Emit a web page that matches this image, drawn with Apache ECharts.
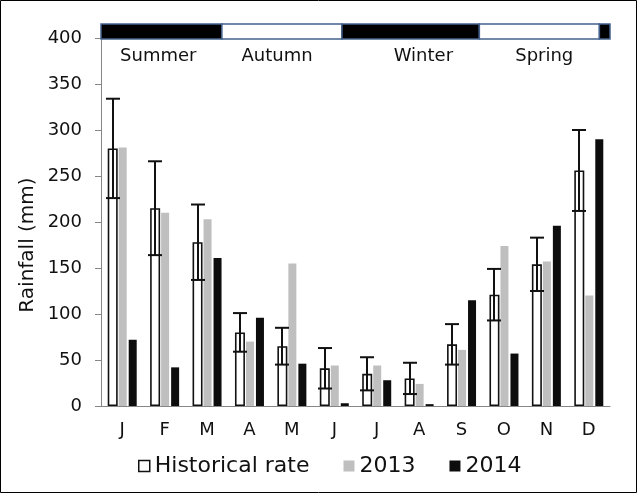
<!DOCTYPE html>
<html><head><meta charset="utf-8">
<script src="https://cdn.jsdelivr.net/npm/echarts@6/dist/echarts.min.js"></script>
<style>html,body{margin:0;padding:0;background:#fff}#c{width:637px;height:493px}</style>
</head><body><div id="c"></div>
<script>
// ---- data ----
const months = ['J','F','M','A','M','J','J','A','S','O','N','D'];
const historical = [280, 215, 178, 80, 65, 41, 35, 30, 67, 121, 154, 256];
const historicalErr = [54, 51, 41, 21, 20, 22, 18, 17, 22, 28, 29, 44];
const rain2013 = [281, 210, 203, 70, 155, 44, 44, 24, 61, 174, 157, 120];
const rain2014 = [72, 42, 161, 96, 46, 3, 28, 2, 115, 57, 196, 290];
const yMin = 0, yMax = 400, yStep = 50;
const seasonNames = ['Summer', 'Autumn', 'Winter', 'Spring', ''];
const seasonStart = [0, 2.85, 5.68, 8.92, 11.75];
const seasonEnd = [2.85, 5.68, 8.92, 11.75, 12];
const seasonLabelAt = [1.35, 4.15, 7.6, 10.45, null];

// ---- style constants ----
const FONT = 'DejaVu Sans';
const TXT = '#111';
const HIST_W = 10, GAP1 = 1, W13 = 8, GAP2 = 2, W14 = 8;
const GROUP_W = HIST_W + GAP1 + W13 + GAP2 + W14;
const HIST_OFFSET = -GROUP_W / 2 + HIST_W / 2;

const chart = echarts.init(document.getElementById('c'), null, {renderer: 'canvas'});
chart.setOption({
  animation: false,
  backgroundColor: '#fff',
  grid: [
    {left: 101, right: 27, top: 38, bottom: 87},
    {left: 101, right: 27, top: 24, height: 15}
  ],
  xAxis: [
    {type: 'category', gridIndex: 0, data: months,
     axisLine: {lineStyle: {color: '#868686', width: 1}},
     axisTick: {show: false},
     axisLabel: {color: TXT, fontFamily: FONT, fontSize: 18, margin: 15}},
    {type: 'value', gridIndex: 1, min: 0, max: 12, show: false}
  ],
  yAxis: [
    {type: 'value', gridIndex: 0, min: yMin, max: yMax, interval: yStep,
     axisLine: {show: true, lineStyle: {color: '#868686', width: 1}},
     axisTick: {show: true, length: 6, lineStyle: {color: '#868686'}},
     splitLine: {show: false},
     axisLabel: {color: TXT, fontFamily: FONT, fontSize: 18, margin: 19}},
    {type: 'value', gridIndex: 1, min: 0, max: 1, show: false}
  ],
  legend: {
    left: 133, top: 450, itemWidth: 11, itemHeight: 11, itemGap: 34,
    icon: 'rect',
    textStyle: {color: TXT, fontFamily: FONT, fontSize: 22},
    data: [
      {name: 'Historical rate', itemStyle: {color: '#fff', borderColor: '#111', borderWidth: 1.5}},
      {name: '2013', itemStyle: {color: '#bfbfbf', borderWidth: 0}},
      {name: '2014', itemStyle: {color: '#0d0d0d', borderWidth: 0}}
    ]
  },
  graphic: [
    {type: 'rect', shape: {x: 0.5, y: 0.5, width: 636, height: 492}, style: {fill: 'none', stroke: '#000', lineWidth: 1}, z: 100},
    {type: 'text', x: 28, y: 245, rotation: Math.PI / 2,
     style: {text: 'Rainfall (mm)', fill: TXT, font: '20px "DejaVu Sans"', textAlign: 'center', textVerticalAlign: 'middle'}}
  ],
  series: [
    {name: 'Historical rate', type: 'bar', xAxisIndex: 0, yAxisIndex: 0, barWidth: HIST_W, barGap: '0%',
     data: historical, itemStyle: {color: '#fff', borderColor: '#111', borderWidth: 1.6}, z: 3},
    {name: 'sp1', type: 'bar', xAxisIndex: 0, yAxisIndex: 0, barWidth: GAP1, barGap: '0%', data: [], silent: true},
    {name: '2013', type: 'bar', xAxisIndex: 0, yAxisIndex: 0, barWidth: W13, barGap: '0%',
     data: rain2013, itemStyle: {color: '#bfbfbf'}, z: 2},
    {name: 'sp2', type: 'bar', xAxisIndex: 0, yAxisIndex: 0, barWidth: GAP2, barGap: '0%', data: [], silent: true},
    {name: '2014', type: 'bar', xAxisIndex: 0, yAxisIndex: 0, barWidth: W14, barGap: '0%',
     data: rain2014, itemStyle: {color: '#0d0d0d'}, z: 2},
    {name: 'err', type: 'custom', xAxisIndex: 0, yAxisIndex: 0, z: 5, silent: true,
     data: historical.map((v, i) => [i, v, historicalErr[i]]),
     renderItem: function (params, api) {
       const i = api.value(0), m = api.value(1), e = api.value(2);
       const hi = api.coord([i, m + e]), lo = api.coord([i, m - e]);
       const x = Math.round(hi[0] + HIST_OFFSET);
       const st = {stroke: '#111', lineWidth: 2};
       return {type: 'group', children: [
         {type: 'line', shape: {x1: x, y1: hi[1], x2: x, y2: lo[1]}, style: st},
         {type: 'line', shape: {x1: x - 7, y1: hi[1], x2: x + 7, y2: hi[1]}, style: st},
         {type: 'line', shape: {x1: x - 7, y1: lo[1], x2: x + 7, y2: lo[1]}, style: st}
       ]};
     }},
    {name: 'seasons', type: 'custom', xAxisIndex: 1, yAxisIndex: 1, silent: true, clip: false, z: 6,
     data: seasonStart.map((s, i) => [s, seasonEnd[i], seasonLabelAt[i] == null ? -1 : seasonLabelAt[i], i]),
     renderItem: function (params, api) {
       const s = api.value(0), e = api.value(1), la = api.value(2), idx = api.value(3);
       const p0 = api.coord([s, 1]), p1 = api.coord([e, 0]);
       const children = [{type: 'rect',
         shape: {x: p0[0], y: p0[1], width: p1[0] - p0[0], height: p1[1] - p0[1]},
         style: {fill: idx % 2 === 0 ? '#000' : '#fff', stroke: '#44618c', lineWidth: 1.5}}];
       const name = seasonNames[idx];
       if (name && la >= 0) {
         const lp = api.coord([la, 0]);
         children.push({type: 'text', x: lp[0], y: lp[1] + 17,
           style: {text: name, fill: TXT, font: '18px "DejaVu Sans"', textAlign: 'center', textVerticalAlign: 'middle'}});
       }
       return {type: 'group', children: children};
     }}
  ]
});
</script></body></html>
